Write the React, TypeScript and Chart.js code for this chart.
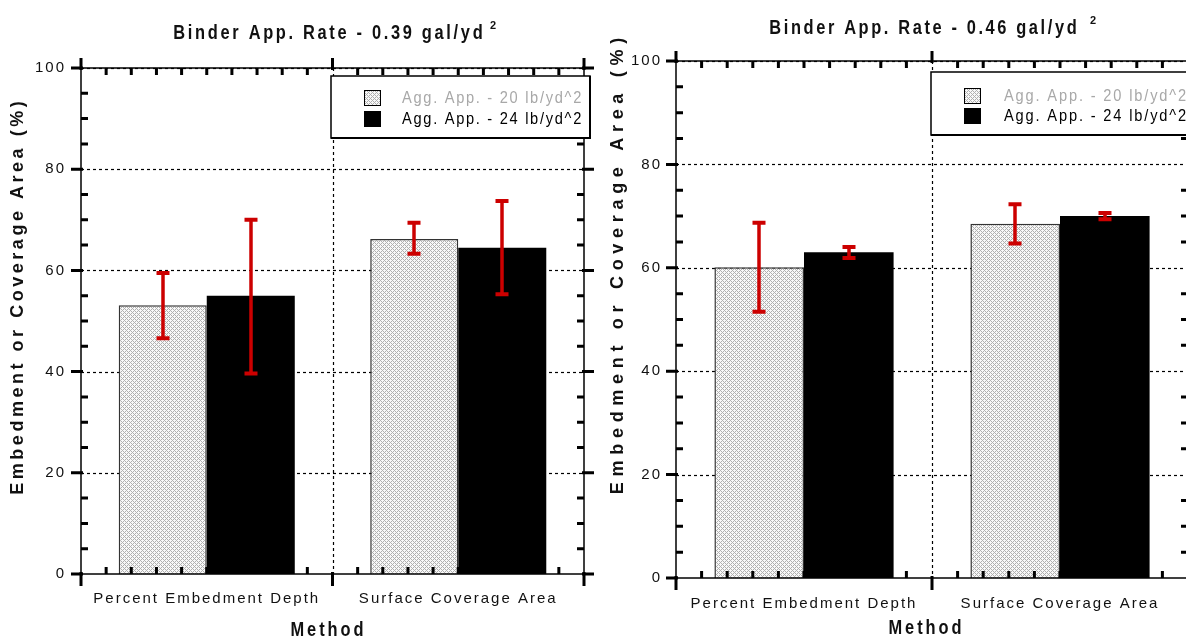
import React, { useEffect, useRef } from "react";
import { Chart, registerables } from "chart.js";

Chart.register(...registerables);

// ---------- data ----------
const categories = ["Percent Embedment Depth", "Surface Coverage Area"];
const seriesNames = ["Agg. App. - 20 lb/yd^2", "Agg. App. - 24 lb/yd^2"];
const yTickValues = [0, 20, 40, 60, 80, 100];

const titleA = "Binder App. Rate - 0.39 gal/yd";
const titleB = "Binder App. Rate - 0.46 gal/yd";
const titleSup = "2";
const yAxisTitle = "Embedment or Coverage Area (%)";
const xAxisTitle = "Method";

// Binder 0.39 gal/yd^2
const a20 = [53.1, 66.2];
const a24 = [55.0, 64.5];
const a20Low = [46.6, 63.3];
const a20High = [59.5, 69.4];
const a24Low = [39.6, 55.3];
const a24High = [70.0, 73.7];

// Binder 0.46 gal/yd^2
const b20 = [60.1, 68.5];
const b24 = [63.0, 70.0];
const b20Low = [51.5, 64.7];
const b20High = [68.7, 72.3];
const b24Low = [61.9, 69.4];
const b24High = [64.0, 70.6];

// ---------- styling / layout ----------
const FONT = "'Liberation Sans', Arial, sans-serif";
const ERR = "#cc0000";

interface Layout {
  left: number; width: number; height: number;
  plotL: number; plotR: number; plotT: number; plotB: number;
  titleX: number; titleY: number; titleW: number; supX: number; supY: number;
  yTitleX: number; yTitleY: number; yTitleLen: number;
  xTitleX: number; xTitleY: number; xTitleW: number;
  legX: number; legY: number; legW: number; legH: number;
  legIconX: number; legTextX: number; legRow1: number; legRow2: number; legTextW: number;
  tickPad: number; xLabelPad: number;
}

const layoutA: Layout = {
  left: 0, width: 600, height: 639,
  plotL: 81, plotR: 584, plotT: 68, plotB: 574,
  titleX: 328, titleY: 33, titleW: 312, supX: 493, supY: 26,
  yTitleX: 18, yTitleY: 298, yTitleLen: 397,
  xTitleX: 327, xTitleY: 630, xTitleW: 76,
  legX: 331, legY: 76, legW: 259, legH: 62,
  legIconX: 364, legTextX: 402, legRow1: 98, legRow2: 119, legTextW: 181,
  tickPad: 15, xLabelPad: 16,
};

const layoutB: Layout = {
  left: 590, width: 700, height: 639,
  plotL: 86, plotR: 598, plotT: 61, plotB: 578,
  titleX: 333, titleY: 28, titleW: 310, supX: 503, supY: 21,
  yTitleX: 28, yTitleY: 266, yTitleLen: 462,
  xTitleX: 335, xTitleY: 628, xTitleW: 76,
  legX: 341, legY: 72, legW: 300, legH: 63,
  legIconX: 374, legTextX: 414, legRow1: 96, legRow2: 116, legTextW: 184,
  tickPad: 14, xLabelPad: 17,
};

function makePattern(): CanvasPattern | string {
  const c = document.createElement("canvas");
  c.width = 4;
  c.height = 4;
  const p = c.getContext("2d");
  if (!p) return "#d8d8d8";
  p.fillStyle = "#f8f8f8";
  p.fillRect(0, 0, 4, 4);
  p.fillStyle = "#b0b0b0";
  const pts = [[0, 0], [1, 1], [2, 2], [3, 3], [1, 3], [3, 1]];
  pts.forEach(([x, y]) => p.fillRect(x, y, 1, 1));
  const pat = p.createPattern(c, "repeat");
  return pat || "#d8d8d8";
}

// draw text horizontally condensed by sx and letter-spaced so that it spans `target` px
function drawFitted(
  ctx: CanvasRenderingContext2D, text: string, x: number, y: number,
  font: string, sx: number, target: number, align: "left" | "center"
) {
  ctx.save();
  ctx.font = font;
  ctx.letterSpacing = "0px";
  const w0 = ctx.measureText(text).width;
  const s = Math.max(0, (target / sx - w0) / text.length);
  ctx.letterSpacing = s + "px";
  const w = ctx.measureText(text).width;
  ctx.translate(x, y);
  ctx.scale(sx, 1);
  ctx.textAlign = "left";
  ctx.textBaseline = "middle";
  const ox = align === "center" ? -w / 2 + s / 2 : 0;
  ctx.fillText(text, ox, 0);
  ctx.restore();
}

function makePlugin(L: Layout, title: string, lows: number[][], highs: number[][], pattern: any) {
  return {
    id: "decor",
    beforeDraw(chart: any) {
      chart.ctx.letterSpacing = "2px";
    },
    beforeDatasetsDraw(chart: any) {
      const { ctx, chartArea: a, scales } = chart;
      const y = scales.y;
      const x = scales.x;
      ctx.save();
      ctx.strokeStyle = "#000";
      ctx.lineWidth = 1.2;
      ctx.setLineDash([3, 3]);
      yTickValues.forEach((v) => {
        if (v === 0) return;
        const py = Math.round(y.getPixelForValue(v)) + 0.5;
        ctx.beginPath();
        ctx.moveTo(a.left, py);
        ctx.lineTo(a.right, py);
        ctx.stroke();
      });
      for (let i = 1; i < categories.length; i++) {
        const px = Math.round(x.getPixelForDecimal(i / categories.length)) + 0.5;
        ctx.beginPath();
        ctx.moveTo(px, a.top);
        ctx.lineTo(px, a.bottom);
        ctx.stroke();
      }
      ctx.restore();
    },
    afterDatasetsDraw(chart: any) {
      const { ctx, chartArea: a, scales } = chart;
      const y = scales.y;
      const x = scales.x;
      ctx.save();
      // error bars
      ctx.strokeStyle = ERR;
      chart.data.datasets.forEach((_: any, di: number) => {
        const meta = chart.getDatasetMeta(di);
        meta.data.forEach((bar: any, j: number) => {
          const px = Math.round(bar.x);
          const yl = y.getPixelForValue(lows[di][j]);
          const yh = y.getPixelForValue(highs[di][j]);
          ctx.lineWidth = 3.5;
          ctx.beginPath();
          ctx.moveTo(px, yl);
          ctx.lineTo(px, yh);
          ctx.stroke();
          ctx.lineWidth = 4;
          ctx.beginPath();
          ctx.moveTo(px - 6.5, yl);
          ctx.lineTo(px + 6.5, yl);
          ctx.moveTo(px - 6.5, yh);
          ctx.lineTo(px + 6.5, yh);
          ctx.stroke();
        });
      });
      // frame
      ctx.strokeStyle = "#000";
      ctx.lineWidth = 1.5;
      ctx.strokeRect(a.left, a.top, a.right - a.left, a.bottom - a.top);
      // y ticks
      ctx.lineWidth = 3;
      for (let v = 0; v <= 100; v += 5) {
        const py = y.getPixelForValue(v);
        const major = v % 20 === 0;
        ctx.beginPath();
        if (major) {
          ctx.moveTo(a.left - 10, py);
          ctx.lineTo(a.left + 2, py);
          ctx.moveTo(a.right - 2, py);
          ctx.lineTo(a.right + 10, py);
        } else {
          ctx.moveTo(a.left, py);
          ctx.lineTo(a.left + 7, py);
          ctx.moveTo(a.right - 7, py);
          ctx.lineTo(a.right, py);
        }
        ctx.stroke();
      }
      // x ticks
      const n = categories.length * 10;
      for (let i = 0; i <= n; i++) {
        const px = x.getPixelForDecimal(i / n);
        const major = i % 10 === 0;
        ctx.beginPath();
        if (major) {
          ctx.moveTo(px, a.top - 10);
          ctx.lineTo(px, a.top + 2);
          ctx.moveTo(px, a.bottom - 2);
          ctx.lineTo(px, a.bottom + 12);
        } else {
          ctx.moveTo(px, a.top);
          ctx.lineTo(px, a.top + 7);
          ctx.moveTo(px, a.bottom - 7);
          ctx.lineTo(px, a.bottom);
        }
        ctx.stroke();
      }
      ctx.restore();
    },
    afterDraw(chart: any) {
      const { ctx } = chart;
      ctx.save();
      ctx.fillStyle = "#111";
      // title
      drawFitted(ctx, title, L.titleX, L.titleY, `bold 20px ${FONT}`, 0.82, L.titleW, "center");
      ctx.save();
      ctx.font = `bold 11px ${FONT}`;
      ctx.letterSpacing = "0px";
      ctx.textAlign = "center";
      ctx.textBaseline = "middle";
      ctx.fillText(titleSup, L.supX, L.supY);
      ctx.restore();
      // x title
      drawFitted(ctx, xAxisTitle, L.xTitleX, L.xTitleY, `bold 20px ${FONT}`, 0.82, L.xTitleW, "center");
      // y title
      ctx.save();
      ctx.translate(L.yTitleX, L.yTitleY);
      ctx.rotate(-Math.PI / 2);
      drawFitted(ctx, yAxisTitle, 0, 0, `bold 18px ${FONT}`, 1, L.yTitleLen, "center");
      ctx.restore();
      // legend
      ctx.fillStyle = "#fff";
      ctx.fillRect(L.legX, L.legY, L.legW, L.legH);
      ctx.strokeStyle = "#000";
      ctx.lineWidth = 1.5;
      ctx.strokeRect(L.legX, L.legY, L.legW, L.legH);
      ctx.lineWidth = 2;
      ctx.beginPath();
      ctx.moveTo(L.legX + L.legW, L.legY);
      ctx.lineTo(L.legX + L.legW, L.legY + L.legH);
      ctx.lineTo(L.legX, L.legY + L.legH);
      ctx.stroke();
      const rows = [L.legRow1, L.legRow2];
      const colors = ["#a8a8a8", "#000"];
      chart.data.datasets.forEach((ds: any, i: number) => {
        const cy = rows[i];
        ctx.fillStyle = i === 0 ? pattern : "#000";
        ctx.fillRect(L.legIconX, cy - 8, 17, 16);
        ctx.strokeStyle = "#000";
        ctx.lineWidth = 1;
        ctx.strokeRect(L.legIconX + 0.5, cy - 7.5, 16, 15);
        ctx.fillStyle = colors[i];
        drawFitted(ctx, ds.label, L.legTextX, cy, `17px ${FONT}`, 0.86, L.legTextW, "left");
      });
      ctx.restore();
    },
  };
}

function Panel({ L, title, v20, v24, lows, highs }: { L: Layout; title: string; v20: number[]; v24: number[]; lows: number[][]; highs: number[][] }) {
  const ref = useRef<HTMLCanvasElement>(null);
  useEffect(() => {
    if (!ref.current) return;
    const pattern = makePattern();
    const chart = new Chart(ref.current, {
      type: "bar",
      data: {
        labels: categories,
        datasets: [
          {
            label: seriesNames[0],
            data: v20,
            backgroundColor: pattern as any,
            borderColor: "#333",
            borderWidth: 1.5,
            borderSkipped: "bottom",
          },
          {
            label: seriesNames[1],
            data: v24,
            backgroundColor: "#000",
            borderColor: "#000",
            borderWidth: 0,
          },
        ],
      },
      options: {
        animation: false,
        responsive: false,
        maintainAspectRatio: false,
        devicePixelRatio: 1,
        layout: { padding: { top: L.plotT, right: L.width - L.plotR, left: 0, bottom: 0 } },
        datasets: { bar: { categoryPercentage: 0.7, barPercentage: 1.0 } },
        plugins: { legend: { display: false }, tooltip: { enabled: false }, title: { display: false } },
        scales: {
          x: {
            type: "category",
            offset: true,
            grid: { display: false, drawTicks: false },
            border: { display: false },
            ticks: { color: "#111", font: { family: FONT, size: 15 }, padding: L.xLabelPad, maxRotation: 0, autoSkip: false },
            afterFit: (s: any) => { s.height = L.height - L.plotB; },
          },
          y: {
            min: 0,
            max: 100,
            grid: { display: false, drawTicks: false },
            border: { display: false },
            ticks: { stepSize: 20, color: "#111", font: { family: FONT, size: 15 }, padding: L.tickPad },
            afterFit: (s: any) => { s.width = L.plotL; },
          },
        },
      },
      plugins: [makePlugin(L, title, lows, highs, pattern)],
    } as any);
    return () => chart.destroy();
  }, []);
  return (
    <canvas
      ref={ref}
      width={L.width}
      height={L.height}
      style={{ position: "absolute", left: L.left, top: 0, width: L.width, height: L.height }}
    />
  );
}

export default function App() {
  return (
    <div style={{ position: "fixed", left: 0, top: 0, width: 1186, height: 639, overflow: "hidden", background: "#fff" }}>
      <Panel L={layoutA} title={titleA} v20={a20} v24={a24} lows={[a20Low, a24Low]} highs={[a20High, a24High]} />
      <Panel L={layoutB} title={titleB} v20={b20} v24={b24} lows={[b20Low, b24Low]} highs={[b20High, b24High]} />
    </div>
  );
}
